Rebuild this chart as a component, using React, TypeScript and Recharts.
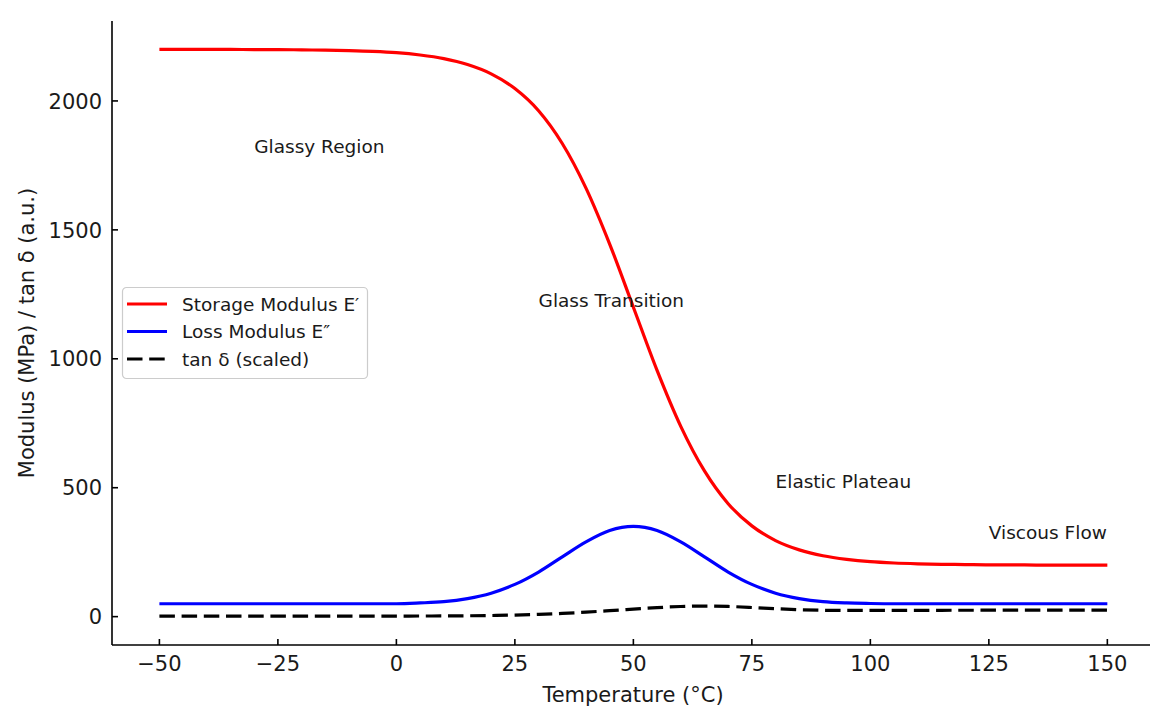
import React from 'react';
import { ComposedChart, Line, Scatter, XAxis, YAxis, Legend, Label } from 'recharts';

// ---- data ----
const temperatures = [
  -50, -45, -40, -35, -30, -25, -20, -15, -10, -5, 0, 5, 10, 15, 20, 25, 30, 35, 40, 45,
  50, 55, 60, 65, 70, 75, 80, 85, 90, 95, 100, 105, 110, 115, 120, 125, 130, 135, 140, 145, 150,
];
const storageModulus = [
  2200, 2200, 2200, 2200, 2199, 2199, 2198, 2197, 2195, 2192, 2187, 2178, 2164, 2141, 2105, 2048, 1962, 1835, 1662, 1445,
  1200, 955, 738, 565, 438, 352, 295, 259, 236, 222, 213, 208, 205, 203, 202, 201, 201, 200, 200, 200, 200,
];
const lossModulus = [
  50, 50, 50, 50, 50, 50, 50, 50, 50, 50, 50, 53, 58, 70, 91, 125, 173, 232, 290, 334,
  350, 334, 290, 232, 173, 125, 91, 70, 58, 53, 51, 50, 50, 50, 50, 50, 50, 50, 50, 50, 50,
];
const tanDeltaScaled = [
  2.3, 2.3, 2.3, 2.3, 2.3, 2.3, 2.3, 2.3, 2.3, 2.3, 2.3, 2.4, 2.7, 3.3, 4.3, 6.1, 8.8, 12.6, 17.4, 23.1,
  29.2, 35.0, 39.3, 41.1, 39.5, 35.5, 30.8, 27.0, 24.8, 23.9, 23.9, 24.0, 24.4, 24.6, 24.8, 24.9, 25.0, 25.0, 25.0, 25.0, 25.0,
];
const xTicks = [-50, -25, 0, 25, 50, 75, 100, 125, 150];
const yTicks = [0, 500, 1000, 1500, 2000];
const annotationTemps = [-30, 30, 80, 125];
const annotationValues = [1800, 1200, 500, 300];
const annotationTexts = ['Glassy Region', 'Glass Transition', 'Elastic Plateau', 'Viscous Flow'];
const seriesNames = ['Storage Modulus E′', 'Loss Modulus E″', 'tan δ (scaled)'];
const xAxisTitle = 'Temperature (°C)';
const yAxisTitle = 'Modulus (MPa) / tan δ (a.u.)';

const data = temperatures.map((t, i) => ({
  T: t,
  storage: storageModulus[i],
  loss: lossModulus[i],
  tan: tanDeltaScaled[i],
}));
const annotationData = annotationTemps.map((t, i) => ({ T: t, v: annotationValues[i], text: annotationTexts[i] }));

const FONT = '"DejaVu Sans", Verdana, sans-serif';
const TEXT_COLOR = '#1a1a1a';
const DASH = '15.5 6.7';

const fmt = (v: number) => String(v).replace('-', '\u2212');

const XTick = (props: any) => {
  const { x, y, payload } = props;
  return (
    <g>
      <line x1={x} x2={x} y1={y} y2={y - 6} stroke="#000" strokeWidth={1.6} />
      <text x={x} y={y + 26} textAnchor="middle" fontSize={21} fontFamily={FONT} fill={TEXT_COLOR}>
        {fmt(payload.value)}
      </text>
    </g>
  );
};

const YTick = (props: any) => {
  const { x, y, payload } = props;
  return (
    <g>
      <line x1={x} x2={x + 6} y1={y} y2={y} stroke="#000" strokeWidth={1.6} />
      <text x={x - 10} y={y + 7.7} textAnchor="end" fontSize={21} fontFamily={FONT} fill={TEXT_COLOR}>
        {fmt(payload.value)}
      </text>
    </g>
  );
};

const XTitle = (props: any) => {
  const vb = props.viewBox || {};
  return (
    <text x={vb.x + vb.width / 2 + 2} y={702} textAnchor="middle" fontSize={21} fontFamily={FONT} fill={TEXT_COLOR}>
      {xAxisTitle}
    </text>
  );
};

const YTitle = (props: any) => {
  const vb = props.viewBox || {};
  const cy = vb.y + vb.height / 2;
  return (
    <text
      x={34}
      y={cy}
      transform={`rotate(-90, 34, ${cy})`}
      textAnchor="middle"
      fontSize={21}
      fontFamily={FONT}
      fill={TEXT_COLOR}
    >
      {yAxisTitle}
    </text>
  );
};

const AnnotationShape = (props: any) => {
  const { cx, cy, payload } = props;
  return (
    <text x={cx} y={cy} textAnchor="start" fontSize={18.5} fontFamily={FONT} fill={TEXT_COLOR}>
      {payload.text}
    </text>
  );
};

const legendColors = ['#ff0000', '#0000ff', '#000000'];
const legendDashes = [undefined, undefined, DASH];

const LegendBox = () => (
  <svg width={246} height={93} style={{ display: 'block', overflow: 'visible' }}>
    <rect x={0.5} y={0.5} width={245} height={91} rx={4} ry={4} fill="#ffffff" fillOpacity={0.8} stroke="#cccccc" strokeWidth={1.2} />
    {seriesNames.map((name, i) => {
      const cy = 17 + i * 27.5;
      return (
        <g key={name}>
          <line x1={5} x2={45} y1={cy} y2={cy} stroke={legendColors[i]} strokeWidth={3.2} strokeDasharray={legendDashes[i]} />
          <text x={60} y={cy + 6.7} fontSize={18.5} fontFamily={FONT} fill={TEXT_COLOR}>
            {name}
          </text>
        </g>
      );
    })}
  </svg>
);

export default function App() {
  return (
    <div style={{ position: 'absolute', left: 0, top: 0, width: 1150, height: 709, background: '#fff' }}>
      <ComposedChart width={1150} height={709} data={data} margin={{ top: 21, right: 0, bottom: 0, left: 0 }}>
        <XAxis
          dataKey="T"
          type="number"
          domain={[-60, 159]}
          ticks={xTicks}
          interval={0}
          height={64}
          tickSize={0}
          tickMargin={0}
          tickLine={false}
          axisLine={{ stroke: '#000', strokeWidth: 1.6 }}
          tick={<XTick />}
        >
          <Label content={<XTitle />} />
        </XAxis>
        <YAxis
          type="number"
          domain={[-110, 2310]}
          ticks={yTicks}
          interval={0}
          width={112}
          tickSize={0}
          tickMargin={0}
          tickLine={false}
          axisLine={{ stroke: '#000', strokeWidth: 1.6 }}
          tick={<YTick />}
        >
          <Label content={<YTitle />} />
        </YAxis>
        <Line
          dataKey="storage"
          name={seriesNames[0]}
          type="monotone"
          stroke="#ff0000"
          strokeWidth={3.2}
          dot={false}
          activeDot={false}
          isAnimationActive={false}
        />
        <Line
          dataKey="loss"
          name={seriesNames[1]}
          type="monotone"
          stroke="#0000ff"
          strokeWidth={3.2}
          dot={false}
          activeDot={false}
          isAnimationActive={false}
        />
        <Line
          dataKey="tan"
          name={seriesNames[2]}
          type="monotone"
          stroke="#000000"
          strokeWidth={3.2}
          strokeDasharray={DASH}
          dot={false}
          activeDot={false}
          isAnimationActive={false}
        />
        <Scatter
          data={annotationData}
          dataKey="v"
          shape={<AnnotationShape />}
          isAnimationActive={false}
          legendType="none"
        />
        <Legend
          layout="vertical"
          align="center"
          verticalAlign="middle"
          content={<LegendBox />}
          wrapperStyle={{ left: 122, top: 287, width: 246, height: 93 }}
        />
      </ComposedChart>
    </div>
  );
}
